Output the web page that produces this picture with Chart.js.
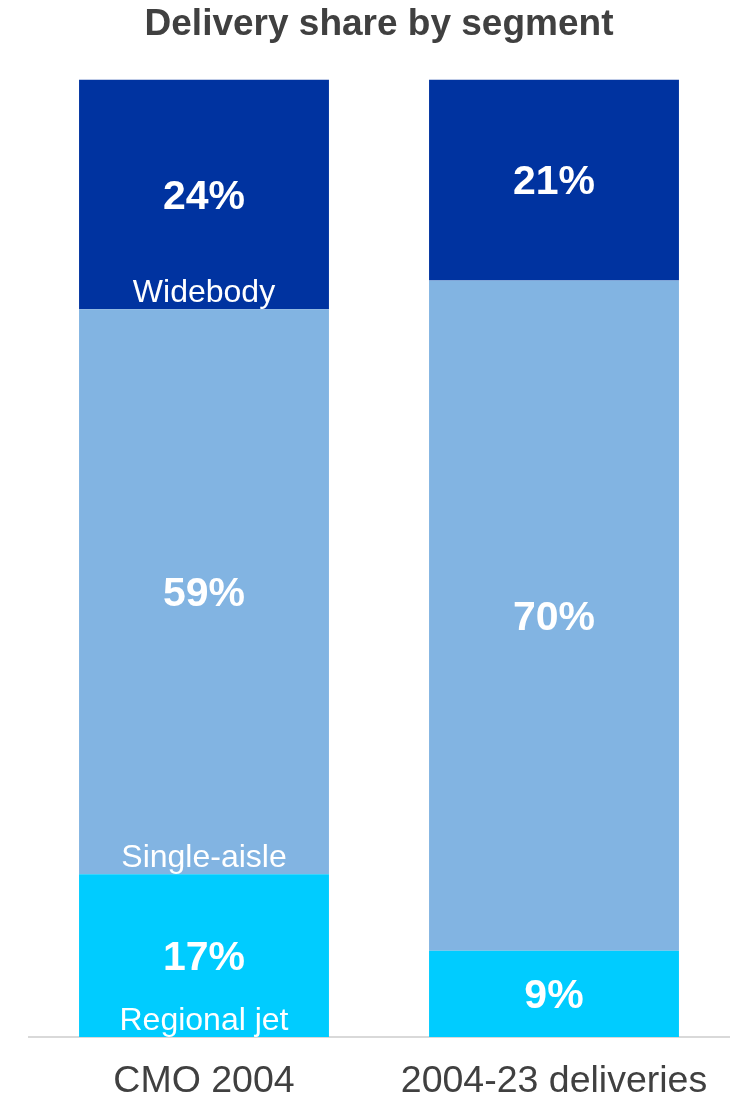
<!DOCTYPE html>
<html lang="en">
  <head>
    <meta charset="UTF-8" />
    <title>Delivery share by segment</title>
    <style>
      body {
        margin: 0;
        background: #ffffff;
      }
      #wrap {
        width: 746px;
        height: 1099px;
      }
    </style>
    <script src="https://cdn.jsdelivr.net/npm/chart.js"></script>
  </head>
  <body>
    <div id="wrap">
      <canvas id="share-chart"></canvas>
    </div>
    <script>
      // categories and shares (percent of deliveries), bottom segment first
      const categories = ['CMO 2004', '2004-23 deliveries'];
      const segments = ['Regional jet', 'Single-aisle', 'Widebody'];
      const regionalJet = [17, 9];
      const singleAisle = [59, 70];
      const widebody = [24, 21];
      const segmentColors = ['#00CCFF', '#82B4E2', '#0033A0'];

      const FONT = "'Liberation Sans', Arial, sans-serif";

      // writes the % value in each block, and the segment name on the first bar
      const blockLabels = {
        id: 'blockLabels',
        afterDatasetsDraw(chart) {
          const ctx = chart.ctx;
          ctx.save();
          ctx.fillStyle = '#ffffff';
          ctx.textAlign = 'center';
          chart.data.datasets.forEach((ds, i) => {
            const meta = chart.getDatasetMeta(i);
            meta.data.forEach((bar, j) => {
              const top = bar.y;
              const bottom = bar.base;
              ctx.font = 'bold 41px ' + FONT;
              ctx.textBaseline = 'middle';
              ctx.fillText(ds.data[j] + '%', bar.x, (top + bottom) / 2 + 3);
              if (j === 0) {
                ctx.font = '32px ' + FONT;
                ctx.textBaseline = 'alphabetic';
                ctx.fillText(ds.label, bar.x, bottom - 7);
              }
            });
          });
          ctx.restore();
        }
      };

      const seriesValues = [regionalJet, singleAisle, widebody];

      const ctx = document.getElementById('share-chart').getContext('2d');
      const chart = new Chart(ctx, {
        type: 'bar',
        data: {
          labels: categories,
          datasets: segments.map((name, i) => ({
            label: name,
            data: seriesValues[i],
            backgroundColor: segmentColors[i],
            borderWidth: 0,
            categoryPercentage: 1,
            barPercentage: 0.714
          }))
        },
        options: {
          responsive: true,
          maintainAspectRatio: false,
          animation: false,
          layout: {
            padding: { left: 29, right: 17, top: 0, bottom: 0 }
          },
          plugins: {
            legend: { display: false },
            tooltip: { enabled: false },
            title: {
              display: true,
              text: 'Delivery share by segment',
              color: '#404040',
              font: { family: FONT, size: 37, weight: 'bold', lineHeight: 1.2 },
              padding: { top: 3, bottom: 32 }
            }
          },
          scales: {
            x: {
              stacked: true,
              grid: { display: false, drawTicks: false },
              border: { display: true, color: '#d9d9d9', width: 2 },
              ticks: {
                color: '#404040',
                padding: 24,
                font: { family: FONT, size: 37.5, lineHeight: 1.1 }
              },
              // keep the category row at a fixed height under the bars
              afterFit(scale) {
                scale.height = 62;
              }
            },
            y: {
              stacked: true,
              display: false,
              min: 0,
              max: 100
            }
          }
        },
        plugins: [blockLabels]
      });
    </script>
  </body>
</html>
